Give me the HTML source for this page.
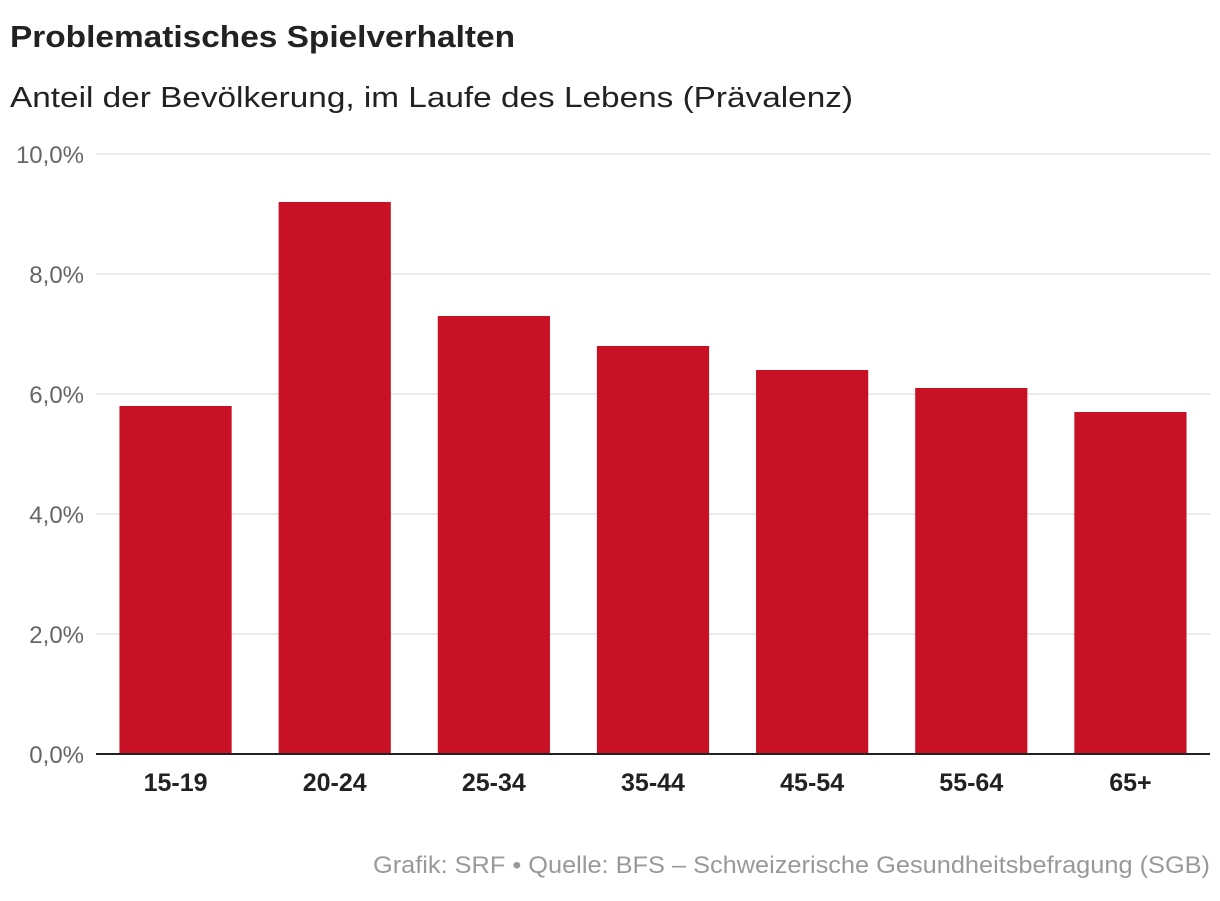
<!DOCTYPE html>
<html><head><meta charset="utf-8"><style>
body{margin:0;background:#fff;width:1220px;height:896px;overflow:hidden;font-family:"Liberation Sans",sans-serif;}
</style></head><body>
<svg width="1220" height="896">
<text x="10" y="47" font-size="31" font-weight="bold" fill="#222" textLength="505" lengthAdjust="spacingAndGlyphs">Problematisches Spielverhalten</text>
<text x="10" y="107" font-size="29" fill="#222" textLength="843" lengthAdjust="spacingAndGlyphs">Anteil der Bevölkerung, im Laufe des Lebens (Prävalenz)</text>
<g id="grid"></g><g id="bars"></g><g id="xl"></g>
<text x="373" y="873" font-size="24" fill="#999" textLength="837" lengthAdjust="spacingAndGlyphs">Grafik: SRF • Quelle: BFS – Schweizerische Gesundheitsbefragung (SGB)</text>
</svg>
<script>
const categories=["15-19","20-24","25-34","35-44","45-54","55-64","65+"];
const values=[5.8,9.2,7.3,6.8,6.4,6.1,5.7];
const ticks=[0,2,4,6,8,10];
const tickLabels=["0,0%","2,0%","4,0%","6,0%","8,0%","10,0%"];
const NS="http://www.w3.org/2000/svg";
const x0=96,x1=1210,y0=754,y1=154,ymax=10;
const y=v=>y0-(y0-y1)*v/ymax;
const bw=(x1-x0)/categories.length;
function mk(t,a,p){const e=document.createElementNS(NS,t);for(const k in a)e.setAttribute(k,a[k]);p.appendChild(e);return e;}
const g=document.getElementById('grid');
ticks.forEach((t,i)=>{
 if(t>0){const l=mk('line',{x1:x0,x2:x1,y1:y(t),y2:y(t),stroke:'#e3e3e3','stroke-width':1.5},g);
 
 }
 const tx=mk('text',{x:84,y:y(t)+9,'font-size':24,fill:'#666','text-anchor':'end'},g);
 tx.textContent=tickLabels[i];
 
 
});
const b=document.getElementById('bars'),xl=document.getElementById('xl');
categories.forEach((c,i)=>{
 const cx=x0+bw*(i+0.5),w=bw*0.705;
 const r=mk('rect',{x:cx-w/2,y:y(values[i]),width:w,height:y0-y(values[i]),fill:'#c91126'},b);
 
 
 const t=mk('text',{x:cx,y:791,'font-size':25,'font-weight':'bold',fill:'#222','text-anchor':'middle'},xl);
 t.textContent=c;
 
 
});
const ax=mk('line',{x1:x0,x2:x1,y1:y0,y2:y0,stroke:'#222','stroke-width':2},xl);


</script>
</body></html>
